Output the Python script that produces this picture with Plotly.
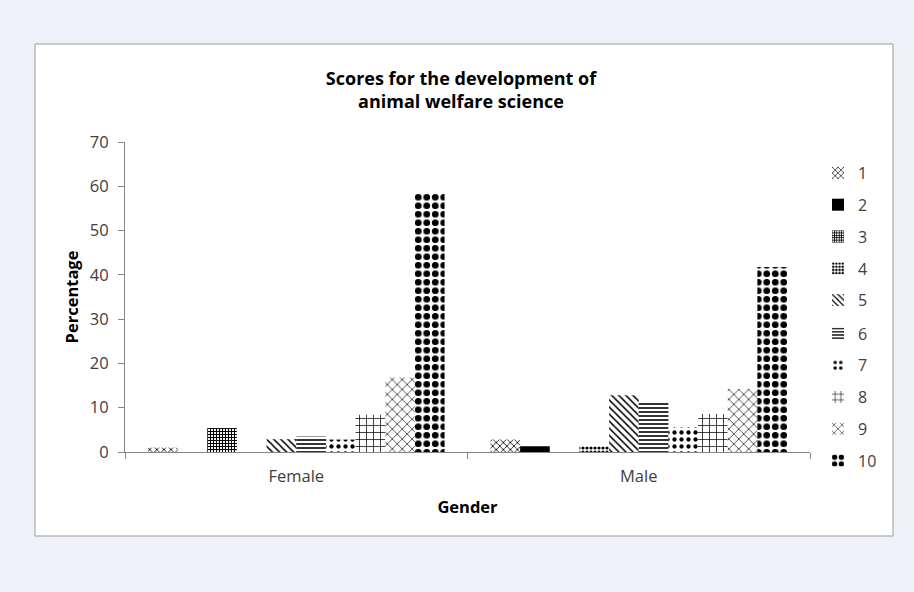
import plotly.graph_objects as go

# Survey results: percentage of respondents giving each score, by gender
genders = ["Female", "Male"]
scores = ["1", "2", "3", "4", "5", "6", "7", "8", "9", "10"]
female = [1.0, 0.0, 5.4, 0.0, 2.9, 3.5, 2.8, 8.4, 16.8, 58.5]
male = [2.8, 1.3, 0.0, 1.3, 12.8, 11.5, 5.6, 8.6, 14.2, 41.8]

# Monochrome fill patterns, one per score
patterns = [
    dict(shape="x", size=5, solidity=0.3),
    None,
    dict(shape="+", size=3, solidity=0.6),
    dict(shape=".", size=4, solidity=0.5),
    dict(shape="\\", size=5, solidity=0.3),
    dict(shape="-", size=4, solidity=0.4),
    dict(shape=".", size=7, solidity=0.3),
    dict(shape="+", size=7, solidity=0.2),
    dict(shape="x", size=7, solidity=0.18),
    dict(shape=".", size=8.5, solidity=0.5),
]

FONT = "Open Sans"
TXT = "#404040"

W, H = 914, 592
L, R, T, B = 125, 104, 142, 140
pw, ph = W - L - R, H - T - B


def px_x(x):
    return (x - L) / pw


def px_y(y):
    return (H - B - y) / ph


fig = go.Figure()
for i, s in enumerate(scores):
    vals = [female[i], male[i]]
    pat = patterns[i]
    if pat is None:
        marker = dict(color="black", line=dict(width=0))
    else:
        marker = dict(
            color="white",
            line=dict(width=0),
            pattern=dict(shape=pat["shape"], size=pat["size"], solidity=pat["solidity"],
                         fgcolor="black", bgcolor="white", fillmode="replace"),
        )
    # scores 1-5 in the upper legend block, 6-10 in the lower one
    fig.add_trace(go.Bar(x=genders, y=vals, name=s, marker=marker, legendgroup=s,
                         legend="legend" if i < 5 else "legend2"))

# white chart panel with grey frame
fig.add_shape(type="rect", xref="paper", yref="paper",
              x0=px_x(35), x1=px_x(893), y0=px_y(536), y1=px_y(44),
              fillcolor="white", line=dict(color="#9a9a9a", width=1), layer="below")

legend_style = dict(xanchor="left", yanchor="top", font=dict(size=16, color=TXT),
                    bgcolor="rgba(0,0,0,0)", tracegroupgap=8, traceorder="grouped")

fig.update_layout(
    width=W, height=H,
    margin=dict(l=L, r=R, t=T, b=B),
    paper_bgcolor="#eef2f8",
    plot_bgcolor="white",
    barmode="group",
    bargap=0.134,
    bargroupgap=0,
    font=dict(family=FONT, color=TXT, size=16),
    title=dict(text="<b>Scores for the development of<br>animal welfare science</b>",
               x=461 / W, xanchor="center", y=1 - 84.5 / H, yanchor="middle",
               font=dict(family=FONT, size=18, color="black")),
    xaxis=dict(
        title=dict(text="<b>Gender</b>", font=dict(size=16.5, color="black"), standoff=15),
        showline=True, linecolor="#868686", linewidth=1,
        ticks="outside", tickson="boundaries", ticklen=6, tickcolor="#868686",
        ticklabelstandoff=9,
        tickfont=dict(size=16.5, color=TXT),
        showgrid=False,
    ),
    yaxis=dict(
        title=dict(text="<b>Percentage</b>", font=dict(size=16.5, color="black"), standoff=7),
        range=[0, 70], dtick=10,
        showline=True, linecolor="#868686", linewidth=1,
        ticks="outside", ticklen=6, tickcolor="#868686",
        ticklabelstandoff=6,
        tickfont=dict(size=16.5, color=TXT),
        showgrid=False, zeroline=False,
    ),
    legend=dict(x=px_x(818), y=px_y(156), **legend_style),
    legend2=dict(x=px_x(818), y=px_y(156 + 5 * 32.1), **legend_style),
)

fig.write_html("out.html")
